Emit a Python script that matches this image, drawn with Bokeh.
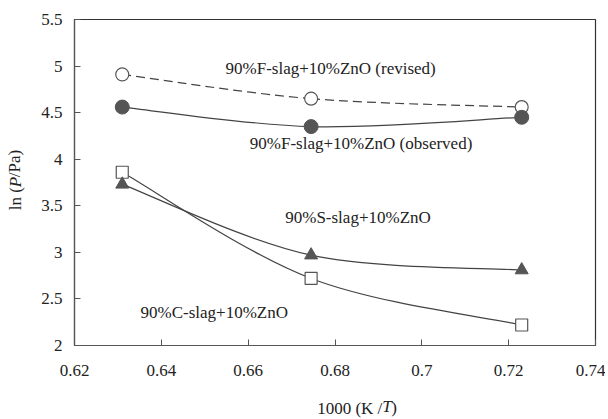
import numpy as np
from bokeh.plotting import figure
from bokeh.models import Label, Range1d, FixedTicker
from bokeh.embed import file_html
from bokeh.resources import INLINE

# data: x = 1000/T, y = ln(P/Pa)
x_vals = [0.631, 0.6745, 0.723]
revised = [4.91, 4.65, 4.56]
observed = [4.56, 4.35, 4.45]
s_slag = [3.73, 2.97, 2.81]
c_slag = [3.86, 2.72, 2.22]
x_ticks = [0.62, 0.64, 0.66, 0.68, 0.70, 0.72, 0.74]
x_tick_labels = ["0.62", "0.64", "0.66", "0.68", "0.7", "0.72", "0.74"]
y_ticks = [2, 2.5, 3, 3.5, 4, 4.5, 5, 5.5]
y_tick_labels = ["2", "2.5", "3", "3.5", "4", "4.5", "5", "5.5"]
series_names = ["90%F-slag+10%ZnO (revised)", "90%F-slag+10%ZnO (observed)",
                "90%S-slag+10%ZnO", "90%C-slag+10%ZnO"]

FONT = "Liberation Serif"
FS = "17px"
TXT = "#222222"
LINE = "#444444"
MARK = "#555555"

p = figure(width=605, height=419, output_backend="svg", toolbar_location=None,
           x_range=Range1d(0.62, 0.74), y_range=Range1d(2, 5.5),
           min_border_left=74, min_border_right=10, min_border_top=19, min_border_bottom=74)
p.frame_width = 521
p.frame_height = 326
p.grid.visible = False
p.outline_line_color = "#333333"
p.outline_line_width = 1.2
p.background_fill_color = "white"
p.border_fill_color = "white"

for ax in (p.xaxis[0], p.yaxis[0]):
    ax.axis_line_color = "#555555"
    ax.axis_line_width = 1.2
    ax.major_tick_in = 6
    ax.major_tick_out = 0
    ax.minor_tick_in = 0
    ax.minor_tick_out = 0
    ax.major_tick_line_color = "#555555"
    ax.major_label_text_font = FONT
    ax.major_label_text_font_size = FS
    ax.major_label_text_color = TXT
    ax.axis_label = None

p.xaxis[0].ticker = FixedTicker(ticks=x_ticks)
p.xaxis[0].major_label_overrides = {t: l for t, l in zip(x_ticks, x_tick_labels)}
p.xaxis[0].major_label_standoff = 19
p.yaxis[0].ticker = FixedTicker(ticks=y_ticks)
p.yaxis[0].major_label_overrides = {t: l for t, l in zip(y_ticks, y_tick_labels)}
p.yaxis[0].major_label_standoff = 12


def smooth(xs, ys):
    """Excel-like smoothed curve: cubic Bezier segments through the points."""
    xs = np.asarray(xs, float)
    ys = np.asarray(ys, float)
    n = len(xs)
    out = {k: [] for k in ("x0", "y0", "x1", "y1", "cx0", "cy0", "cx1", "cy1")}
    for i in range(n - 1):
        a = max(i - 1, 0)
        d = min(i + 2, n - 1)
        out["x0"].append(xs[i]); out["y0"].append(ys[i])
        out["x1"].append(xs[i + 1]); out["y1"].append(ys[i + 1])
        out["cx0"].append(xs[i] + (xs[i + 1] - xs[a]) / 6)
        out["cy0"].append(ys[i] + (ys[i + 1] - ys[a]) / 6)
        out["cx1"].append(xs[i + 1] - (xs[d] - xs[i]) / 6)
        out["cy1"].append(ys[i + 1] - (ys[d] - ys[i]) / 6)
    return out


p.bezier(**smooth(x_vals, revised), line_color=LINE, line_width=1.2, line_dash="9 5")
p.bezier(**smooth(x_vals, observed), line_color=LINE, line_width=1.2)
p.bezier(**smooth(x_vals, s_slag), line_color=LINE, line_width=1.2)
p.bezier(**smooth(x_vals, c_slag), line_color=LINE, line_width=1.2)

p.scatter(x_vals, revised, marker="circle", size=13, fill_color="white", line_color=MARK, line_width=1.2)
p.scatter(x_vals, observed, marker="circle", size=14, fill_color=MARK, line_color=MARK)
p.scatter(x_vals, c_slag, marker="square", size=12, fill_color="white", line_color=MARK, line_width=1.2)
p.scatter(x_vals, s_slag, marker="triangle", size=13, fill_color=MARK, line_color=MARK)

# series labels (positions of text)
ann_pos = [(0.679, 4.97), (0.686, 4.17), (0.6853, 3.37), (0.6522, 2.35)]
for txt, (lx, ly) in zip(series_names, ann_pos):
    p.add_layout(Label(x=lx, y=ly, text=txt, text_font=FONT, text_font_size=FS,
                       text_color=TXT, text_align="center", text_baseline="middle"))


def lab(text, **kw):
    return Label(text=text, text_font=FONT, text_font_size=FS, text_color=TXT,
                 text_baseline="middle", **kw)


# x-axis title "1000 (K /T)" with italic T; pieces live in side panels (not clipped)
XT = 0.6909
T_W = 9
p.add_layout(lab("1000 (K /", x=XT, y=-11, y_units="screen", text_align="right"), "below")
p.add_layout(lab(")", x=XT, y=9, y_units="screen", x_offset=T_W, text_align="left"), "below")
p.add_layout(lab("T", x=XT, y=-61, y_units="screen", text_align="left",
                 text_font_style="italic"), "right")

# y-axis title "ln (P/Pa)" with italic P
YT = 3.70
P_W = 10
ang = np.pi / 2
p.add_layout(lab("ln (", x=-4, y=YT, x_units="screen", angle=ang, text_align="right"), "left")
p.add_layout(lab("/Pa)", x=14, y=YT, x_units="screen", angle=ang, y_offset=P_W,
                 text_align="left"), "left")
p.add_layout(lab("P", x=-59, y=YT, x_units="screen", angle=ang, text_align="left",
                 text_font_style="italic"), "above")

open("out.html", "w").write(file_html(p, INLINE))
